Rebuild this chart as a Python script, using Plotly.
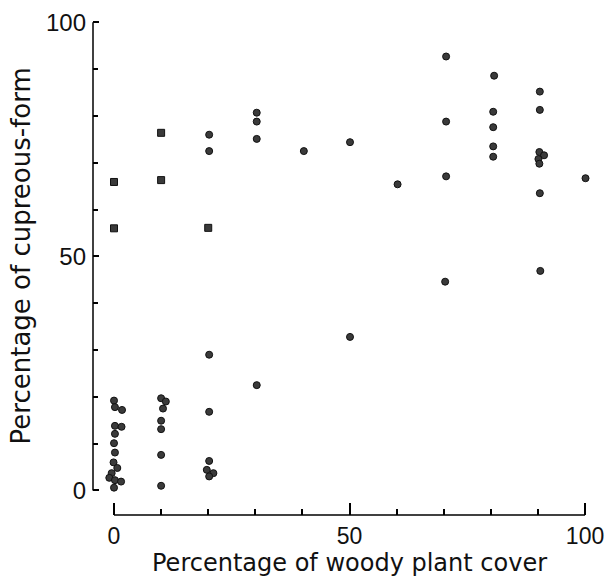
import plotly.graph_objects as go

# circles (cupreous-form percentage by woody plant cover)
circle_x = [0, 0.2, 1.7, 0.2, 1.6, 0.2, 0, 0.2, -0.1, 0.7, -0.5, -1.0, 0.2, 1.5, 0,
            10, 11, 10.4, 10, 10, 10, 10,
            20.2, 20.2, 20.2, 19.7, 21.1, 20.2, 20.2, 20.2,
            30.3, 30.3, 30.3, 30.3,
            40.3,
            50.1, 50.1,
            60.2,
            70.5, 70.5, 70.5, 70.3,
            80.7, 80.5, 80.5, 80.5, 80.5,
            90.4, 90.4, 90.3, 91.3, 90.1, 90.3, 90.4, 90.5,
            100.1]
circle_y = [19.2, 17.8, 17.2, 13.8, 13.6, 12.1, 10.1, 8.1, 6.0, 4.8, 3.7, 2.7, 2.2, 1.9, 0.6,
            19.7, 19.0, 17.5, 14.9, 13.1, 7.6, 1.0,
            29.0, 16.8, 6.3, 4.4, 3.7, 3.0, 76.0, 72.5,
            80.7, 78.8, 75.1, 22.5,
            72.5,
            74.4, 32.8,
            65.4,
            92.7, 78.8, 67.1, 44.6,
            88.6, 80.9, 77.6, 73.5, 71.3,
            85.2, 81.3, 72.3, 71.6, 70.8, 69.8, 63.5, 46.9,
            66.7]

# squares
square_x = [0, 0, 10, 10, 20]
square_y = [56.0, 65.9, 76.4, 66.3, 56.1]

x_major = [0, 50, 100]
y_major = [0, 50, 100]
x_title = "Percentage of woody plant cover"
y_title = "Percentage of cupreous-form"

TICKFONT = "Liberation Sans"
TITLEFONT = "DejaVu Sans"

fig = go.Figure()
fig.add_trace(go.Scatter(
    x=circle_x, y=circle_y, mode="markers",
    marker=dict(symbol="circle", size=7, color="#3a3a3a",
                line=dict(color="#111111", width=1)),
    showlegend=False))
fig.add_trace(go.Scatter(
    x=square_x, y=square_y, mode="markers",
    marker=dict(symbol="square", size=7, color="#3a3a3a",
                line=dict(color="#111111", width=1)),
    showlegend=False))

# detached axis lines spanning 0..100 only
fig.add_shape(type="line", xref="paper", yref="y", x0=0, x1=0, y0=0, y1=100,
              line=dict(color="black", width=1.5))
fig.add_shape(type="line", xref="x", yref="paper", x0=0, x1=100, y0=0, y1=0,
              line=dict(color="black", width=1.5))

fig.update_xaxes(range=[-4.46, 101.05], showgrid=False, zeroline=False, showline=False,
                 tickmode="array", tickvals=x_major, ticks="inside", ticklen=12,
                 tickwidth=1.5, tickcolor="black",
                 minor=dict(dtick=10, tick0=0, ticks="inside", ticklen=6,
                            tickwidth=1.5, tickcolor="black", showgrid=False),
                 tickfont=dict(family=TICKFONT, size=23, color="#111"),
                 ticklabelstandoff=5)
fig.update_yaxes(range=[-5.24, 100.5], showgrid=False, zeroline=False, showline=False,
                 tickmode="array", tickvals=y_major, ticks="inside", ticklen=6,
                 tickwidth=1.5, tickcolor="black",
                 minor=dict(dtick=10, tick0=0, ticks="inside", ticklen=5,
                            tickwidth=1.5, tickcolor="black", showgrid=False),
                 tickfont=dict(family=TICKFONT, size=24, color="#111"),
                 ticklabelstandoff=6)

fig.add_annotation(text=x_title, xref="x", yref="paper", x=50, y=0, yshift=-48,
                   showarrow=False, xanchor="center", yanchor="middle",
                   font=dict(family=TITLEFONT, size=24, color="#111"))
fig.add_annotation(text=y_title, xref="paper", yref="y", x=0, y=50, xshift=-72,
                   textangle=-90, showarrow=False, xanchor="center", yanchor="middle",
                   font=dict(family=TITLEFONT, size=26, color="#111"))

fig.update_layout(width=607, height=576, paper_bgcolor="white", plot_bgcolor="white",
                  margin=dict(l=93, r=17, t=20, b=61, autoexpand=False))
fig.write_html("out.html", config={"displayModeBar": False},
               post_script="document.body.style.margin='0';")
